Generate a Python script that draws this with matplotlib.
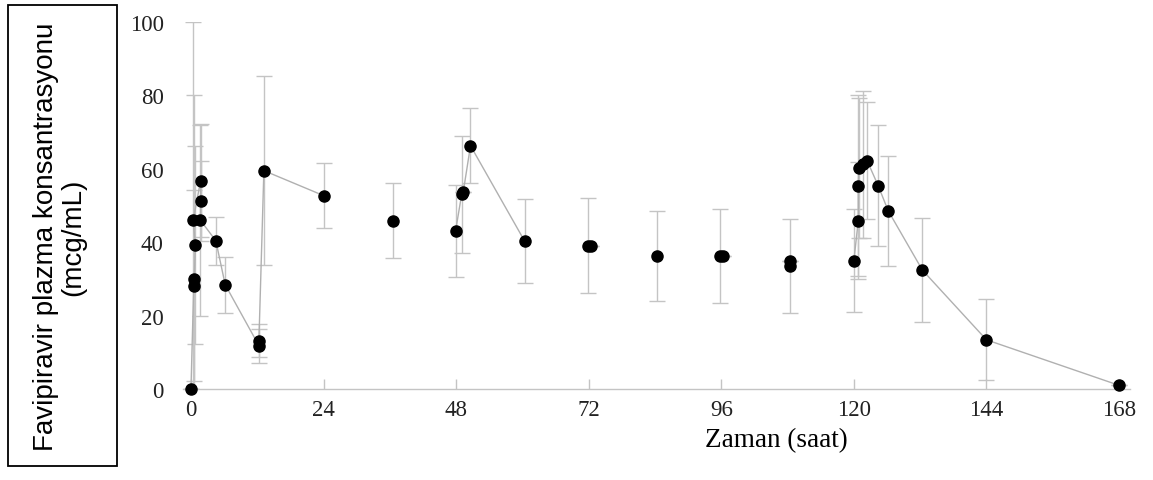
import matplotlib
matplotlib.use("Agg")
import matplotlib.pyplot as plt
from matplotlib.patches import Rectangle
import numpy as np

# ---- data ----
time_h = [0.0, 0.5, 0.6, 0.8, 0.4, 1.75, 1.75, 1.7, 4.5, 6.2, 12.3, 12.3, 13.2, 24.0,
          36.5,
          47.9, 49.0, 49.3, 50.6, 60.4,
          71.8, 72.4, 84.4, 95.7, 96.3, 108.4, 108.4,
          120.0, 120.8, 120.8, 120.9, 121.6, 122.4, 124.4, 126.2, 132.4, 144.0, 168.0]
conc = [0.0, 28.2, 30.0, 39.2, 46.0, 56.8, 51.2, 46.0, 40.4, 28.4, 11.8, 13.2, 59.5, 52.7,
        45.9,
        43.1, 53.0, 53.8, 66.3, 40.3,
        39.1, 39.1, 36.3, 36.3, 36.3, 33.6, 35.0,
        35.0, 45.9, 55.4, 60.2, 61.2, 62.2, 55.4, 48.6, 32.4, 13.4, 1.0]
sd = [0.0, 26.0, 50.0, 27.0, 54.0, 15.5, 11.0, 26.0, 6.6, 7.6, 4.6, 4.4, 25.7, 8.8,
      10.2,
      12.6, 16.0, 0.0, 10.3, 11.5,
      12.9, 0.0, 12.2, 12.8, 0.0, 12.8, 0.0,
      14.0, 16.0, 24.6, 19.0, 20.0, 16.0, 16.4, 15.0, 14.2, 11.0, 0.0]
# connecting-line group of each point (0 = not connected)
line_group = [1, 1, 1, 1, 1, 1, 1, 1, 1, 1, 1, 1, 1, 1,
              0,
              2, 2, 2, 2, 2,
              0, 0, 0, 0, 0, 0, 0,
              3, 3, 3, 3, 3, 3, 3, 3, 3, 3, 3]

x_ticks = [0, 24, 48, 72, 96, 120, 144, 168]
y_ticks = [0, 20, 40, 60, 80, 100]
x_label = "Zaman (saat)"
y_label = "Favipiravir plazma konsantrasyonu\n(mcg/mL)"

W, H = 1153, 481
fig = plt.figure(figsize=(W / 100, H / 100), dpi=100)
ax = fig.add_axes([183 / W, 1 - 390 / H, (1130 - 183) / W, (390 - 23) / H])

grey = "#c4c4c4"
t = np.array(time_h)
c = np.array(conc)
s = np.array(sd)
g = np.array(line_group)

ax.errorbar(t, c, yerr=s, fmt="none", ecolor=grey, elinewidth=1.0,
            capsize=6, capthick=1.0, zorder=1)
for gid in sorted(set(line_group)):
    if gid == 0:
        continue
    m = g == gid
    ax.plot(t[m], c[m], color="#b0b0b0", lw=1.0, zorder=2)
ax.plot(t, c, "o", color="black", markersize=8, zorder=3, clip_on=False)

ax.set_xlim(-8 / 5.545, 168 + 11 / 5.545)
ax.set_ylim(0, 100)
ax.set_xticks(x_ticks)
ax.set_yticks(y_ticks)

for sp in ["top", "right", "left"]:
    ax.spines[sp].set_visible(False)
ax.spines["bottom"].set_color(grey)
ax.spines["bottom"].set_linewidth(1.0)

ax.tick_params(axis="x", direction="in", length=7, color=grey, width=1.0,
               pad=7, labelsize=16.5)
ax.tick_params(axis="y", length=0, pad=14, labelsize=16.5)
for lab in ax.get_xticklabels() + ax.get_yticklabels():
    lab.set_fontfamily("Liberation Serif")
    lab.set_color("#222222")

fig.text(776 / W, 1 - 441 / H, x_label, ha="center", va="center",
         fontsize=19.5, family="Liberation Serif", color="black")

fig.patches.append(Rectangle((8 / W, 1 - 467 / H), 109 / W, 461 / H, fill=False,
                             edgecolor="black", linewidth=1.3,
                             transform=fig.transFigure, figure=fig))
fig.text(60 / W, 1 - 237 / H, y_label, rotation=90, ha="center", va="center",
         multialignment="center", fontsize=20, family="Liberation Sans",
         color="black", linespacing=1.05)

fig.savefig("out.png", dpi=100)
